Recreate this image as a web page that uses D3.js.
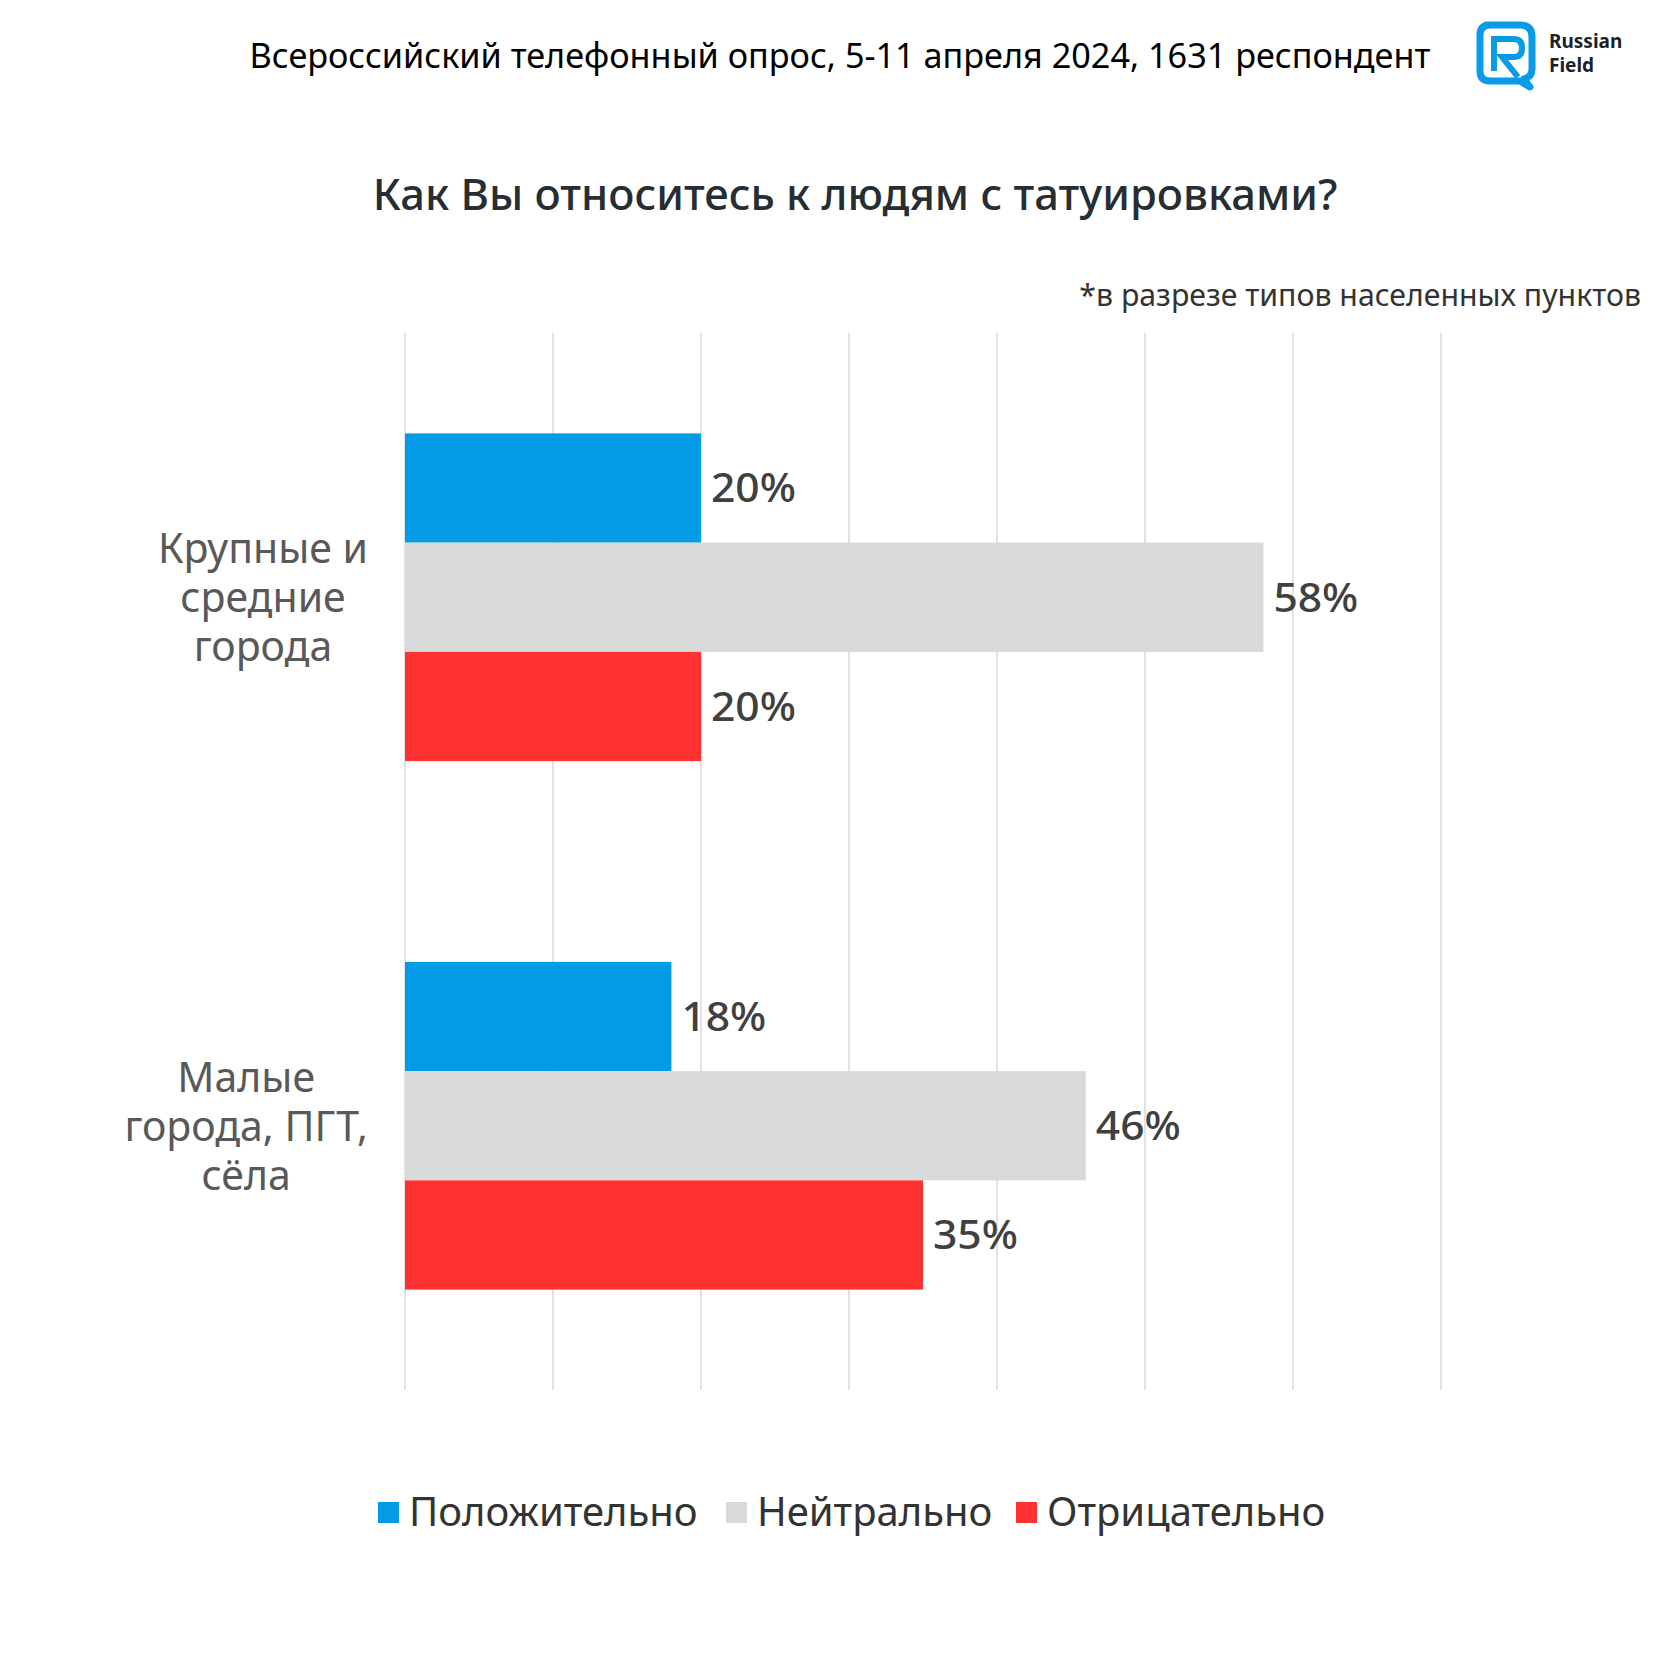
<!DOCTYPE html>
<html><head><meta charset="utf-8">
<script src="https://cdn.jsdelivr.net/npm/d3@7"></script>
<style>body{margin:0;background:#fff}svg{display:block}text{font-family:"Noto Sans","Open Sans",sans-serif}</style>
</head><body>
<script>
const categories = [["Крупные и","средние","города"],["Малые","города, ПГТ,","сёла"]];
const categoryKeys = ["big","small"];
const seriesNames = ["Положительно","Нейтрально","Отрицательно"];
const seriesColors = ["#039be5","#d9d9d9","#ff3131"];
const positive = [20,18];
const neutral = [58,46];
const negative = [20,35];
const xTicks = [0,10,20,30,40,50,60,70];

const W=1680,H=1680;
const svg=d3.select("body").append("svg").attr("width",W).attr("height",H);

// fit helper: scale font so text reaches target width
function fit(t,target){
  const w=t.node().getComputedTextLength();
  const fs=+t.attr("font-size");
  t.attr("font-size",fs*target/w);
}

// header
fit(svg.append("text").attr("x",840).attr("y",68).attr("text-anchor","middle")
  .attr("font-size",32).attr("fill","#000").text("Всероссийский телефонный опрос, 5-11 апреля 2024, 1631 респондент"),1181);
// logo
const lg=svg.append("g").attr("transform","translate(1476,21)");
lg.append("path").attr("d","M10,4 H44 Q56,4 56,16 V48 Q56,56 48,58 L54,66 L44,60 H14 Q4,60 4,50 V14 Q4,4 14,4 Z")
  .attr("fill","none").attr("stroke","#0a9be6").attr("stroke-width",7).attr("stroke-linejoin","round");
lg.append("path").attr("d","M18,50 V18 H38 Q46,18 46,27 Q46,36 38,36 H26 L42,56")
  .attr("fill","none").attr("stroke","#0a9be6").attr("stroke-width",6);
svg.append("text").attr("x",1549).attr("y",48).attr("font-size",19).attr("font-weight","bold").attr("fill","#1a1f2b").text("Russian");
svg.append("text").attr("x",1549).attr("y",72).attr("font-size",19).attr("font-weight","bold").attr("fill","#1a1f2b").text("Field");

fit(svg.append("text").attr("x",855).attr("y",210).attr("text-anchor","middle")
  .attr("font-size",42).attr("font-weight",500).attr("fill","#262d33").text("Как Вы относитесь к людям с татуировками?"),965);
fit(svg.append("text").attr("x",1641).attr("y",306).attr("text-anchor","end")
  .attr("font-size",27).attr("fill","#333").text("*в разрезе типов населенных пунктов"),562);

// scales
const x=d3.scaleLinear().domain([0,70]).range([405,1441]);
const y0=d3.scaleBand().domain(categoryKeys).range([333,1390]).paddingInner(0.38).paddingOuter(0.19);
const y1=d3.scaleBand().domain([0,1,2]).range([0,y0.bandwidth()]);

// grid
svg.append("g").selectAll("line").data(xTicks).join("line")
  .attr("x1",d=>x(d)).attr("x2",d=>x(d)).attr("y1",333).attr("y2",1390)
  .attr("stroke","#d9d9d9").attr("stroke-width",1.5);

const series=[positive,neutral,negative];
const rows=[];
categoryKeys.forEach((k,ci)=>series.forEach((s,si)=>rows.push({k,si,v:s[ci]})));
svg.append("g").selectAll("rect").data(rows).join("rect")
  .attr("x",x(0)).attr("y",d=>y0(d.k)+y1(d.si)).attr("width",d=>x(d.v)-x(0)).attr("height",y1.bandwidth())
  .attr("fill",d=>seriesColors[d.si]);
svg.append("g").selectAll("text").data(rows).join("text")
  .attr("x",d=>x(d.v)+10).attr("y",d=>y0(d.k)+y1(d.si)+y1.bandwidth()/2).attr("dy","0.36em")
  .attr("font-size",40).attr("font-weight",500).attr("textLength",85).attr("lengthAdjust","spacingAndGlyphs")
  .attr("fill","#404040").text(d=>d.v+"%");

// category labels
categoryKeys.forEach((k,ci)=>{
  const lines=categories[ci];
  const g=svg.append("g");
  const ts=lines.map(l=>g.append("text").attr("font-size",41).attr("fill","#595959").attr("text-anchor","middle").text(l));
  const maxW=d3.max(ts,t=>t.node().getComputedTextLength());
  const cx=368-maxW/2;
  const cy=y0(k)+y0.bandwidth()/2;
  const lh=49;
  ts.forEach((t,i)=>t.attr("x",cx).attr("y",cy+(i-(lines.length-1)/2)*lh).attr("dy","0.36em"));
});

// legend
const legX=[378,726,1016];
seriesNames.forEach((n,i)=>{
  svg.append("rect").attr("x",legX[i]).attr("y",1502).attr("width",21).attr("height",21).attr("fill",seriesColors[i]);
  svg.append("text").attr("x",legX[i]+31).attr("y",1512).attr("dy","0.36em").attr("font-size",40).attr("fill","#333").text(n);
});
</script>
</body></html>
